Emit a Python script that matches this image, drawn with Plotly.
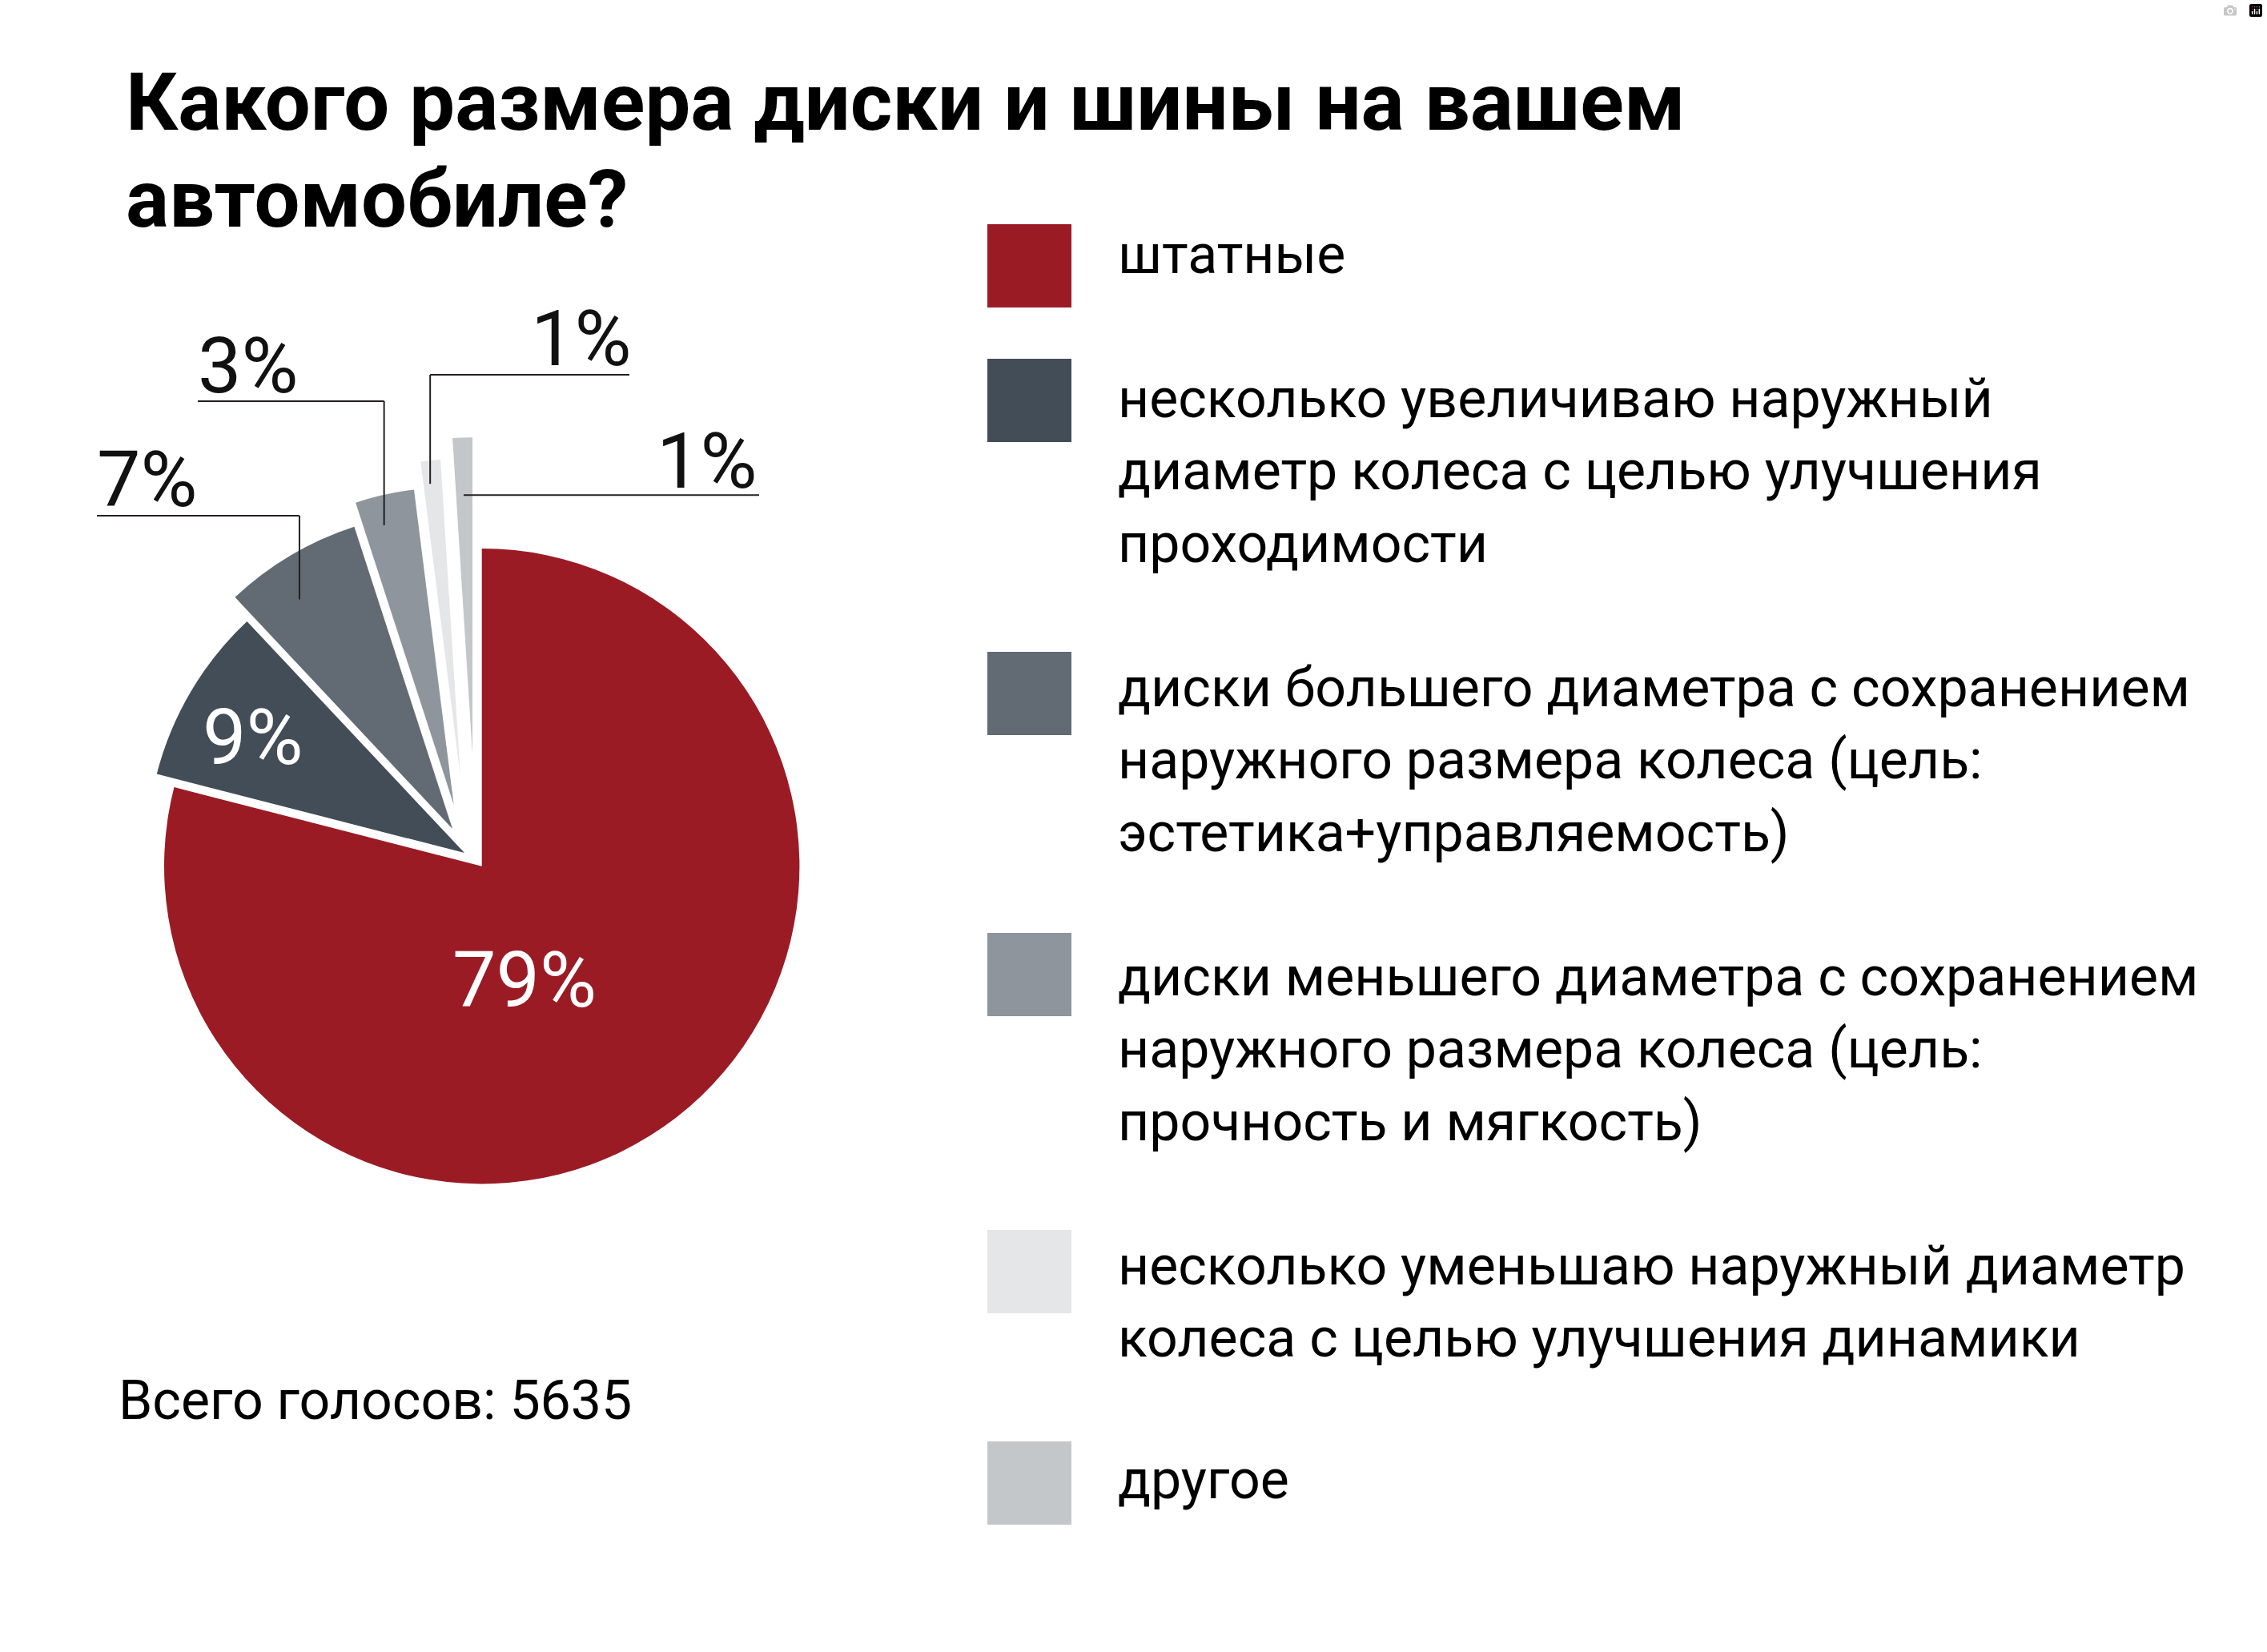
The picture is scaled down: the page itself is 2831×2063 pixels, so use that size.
import math
import plotly.graph_objects as go

# ---------------- data ----------------
labels = [
    "штатные",
    "несколько увеличиваю наружный<br>диаметр колеса с целью улучшения<br>проходимости",
    "диски большего диаметра с сохранением<br>наружного размера колеса (цель:<br>эстетика+управляемость)",
    "диски меньшего диаметра с сохранением<br>наружного размера колеса (цель:<br>прочность и мягкость)",
    "несколько уменьшаю наружный диаметр<br>колеса с целью улучшения динамики",
    "другое",
]
values = [79, 9, 7, 3, 1, 1]
title_lines = ["Какого размера диски и шины на вашем", "автомобиле?"]
total_label = "Всего голосов: 5635"

# ---------------- style ----------------
colors = ["#9b1b25", "#434d57", "#626b74", "#8e959c", "#e5e6e8", "#c4c7ca"]
# exploded-slice offsets in pixels (dx, dy) of each slice from the pie centre
offsets = [(0, 0), (-21.7, -16.6), (-36.7, -46.7), (-35.0, -76.7), (-26.7, -111.7), (-11.7, -138.7)]
FONT = "Roboto"
W, H = 2831, 2063
CX, CY, R = 601.7, 1081.7, 396.7        # pie centre / radius in pixels
TRANSPARENT = "rgba(0,0,0,0)"


def px(x):
    return x / W


def py(y):
    return 1 - y / H


flat_labels = [l.replace("<br>", " ") for l in labels]
fig = go.Figure()
# one pie per exploded slice so every slice can be shifted independently
for i, (ox, oy) in enumerate(offsets):
    cx, cy = CX + ox, CY + oy
    fig.add_trace(go.Pie(
        labels=flat_labels, values=values,
        marker=dict(colors=[colors[j] if j == i else TRANSPARENT for j in range(len(values))],
                    line=dict(width=0)),
        sort=False, direction="clockwise", rotation=0,
        textinfo="none", hoverinfo="label+percent", showlegend=False,
        domain=dict(x=[px(cx - R), px(cx + R)], y=[py(cy + R), py(cy - R)]),
    ))

annotations = []
shapes = []

# percentage labels (positions in px)
pct_pos = [(655, 1224), (316, 921), (184, 599), (310, 457), (726, 423), (883, 576)]
pct_col = ["white", "white", "#111", "#111", "#111", "#111"]
total = sum(values)
for v, (x, y), c in zip(values, pct_pos, pct_col):
    annotations.append(dict(text=f"{round(v / total * 100)}%", x=px(x), y=py(y),
                            xref="paper", yref="paper", xanchor="center", yanchor="middle",
                            showarrow=False, font=dict(family=FONT, size=97, color=c)))

# slice angles (clockwise from 12 o'clock)
starts, cum = [], 0
for v in values:
    starts.append(cum)
    cum += v / total * 360


def dirv(deg):
    a = math.radians(deg)
    return math.sin(a), -math.cos(a)


# leader lines: slice index -> (fraction of slice angle, radial k, level y, end x)
callouts = {2: (0.377, 0.868, 644, 121), 3: (0.37, 0.907, 501, 247),
            4: (0.36, 0.927, 468, 786), 5: (0.46, 0.819, None, 948)}
LC = "#231f20"
LW = 2
for i, (f, k, level, endx) in callouts.items():
    span = values[i] / total * 360
    ax0, ay0 = CX + offsets[i][0], CY + offsets[i][1]
    dx, dy = dirv(starts[i] + f * span)
    ax, ay = ax0 + k * R * dx, ay0 + k * R * dy
    if level is None:
        shapes.append(dict(type="line", xref="paper", yref="paper", x0=px(ax), y0=py(ay),
                           x1=px(endx), y1=py(ay), line=dict(color=LC, width=LW)))
    else:
        shapes.append(dict(type="line", xref="paper", yref="paper", x0=px(ax), y0=py(ay),
                           x1=px(ax), y1=py(level), line=dict(color=LC, width=LW)))
        shapes.append(dict(type="line", xref="paper", yref="paper", x0=px(ax), y0=py(level),
                           x1=px(endx), y1=py(level), line=dict(color=LC, width=LW)))

# title
for line, yc in zip(title_lines, [128, 249]):
    annotations.append(dict(text=line, x=px(155), y=py(yc), xref="paper", yref="paper",
                            xanchor="left", yanchor="middle", showarrow=False,
                            font=dict(family=FONT, size=101, weight=700, color="#000")))

# total votes
annotations.append(dict(text=total_label, x=px(146), y=py(1749), xref="paper", yref="paper",
                        xanchor="left", yanchor="middle", showarrow=False,
                        font=dict(family=FONT, size=68, color="#000")))

# custom legend
sq_x0, sq_x1, sq_h = 1233, 1338, 104
sq_tops = [280, 448, 814, 1165, 1536, 1800]
text_x = 1394
first_centres = [318, 498, 859, 1220, 1581, 1848]
step = 90.3
for lab, col, top, fc in zip(labels, colors, sq_tops, first_centres):
    shapes.append(dict(type="rect", xref="paper", yref="paper", x0=px(sq_x0), x1=px(sq_x1),
                       y0=py(top + sq_h), y1=py(top), fillcolor=col, line=dict(width=0)))
    for j, ln in enumerate(lab.split("<br>")):
        annotations.append(dict(text=ln, x=px(text_x), y=py(fc + j * step),
                                xref="paper", yref="paper", xanchor="left", yanchor="middle",
                                showarrow=False, font=dict(family=FONT, size=68, color="#000")))

fig.update_layout(width=W, height=H, margin=dict(l=0, r=0, t=0, b=0),
                  paper_bgcolor="white", plot_bgcolor="white", showlegend=False,
                  annotations=annotations, shapes=shapes)

fig.write_html("out.html",
               post_script="document.body.style.margin='0';document.body.style.overflow='hidden';")
